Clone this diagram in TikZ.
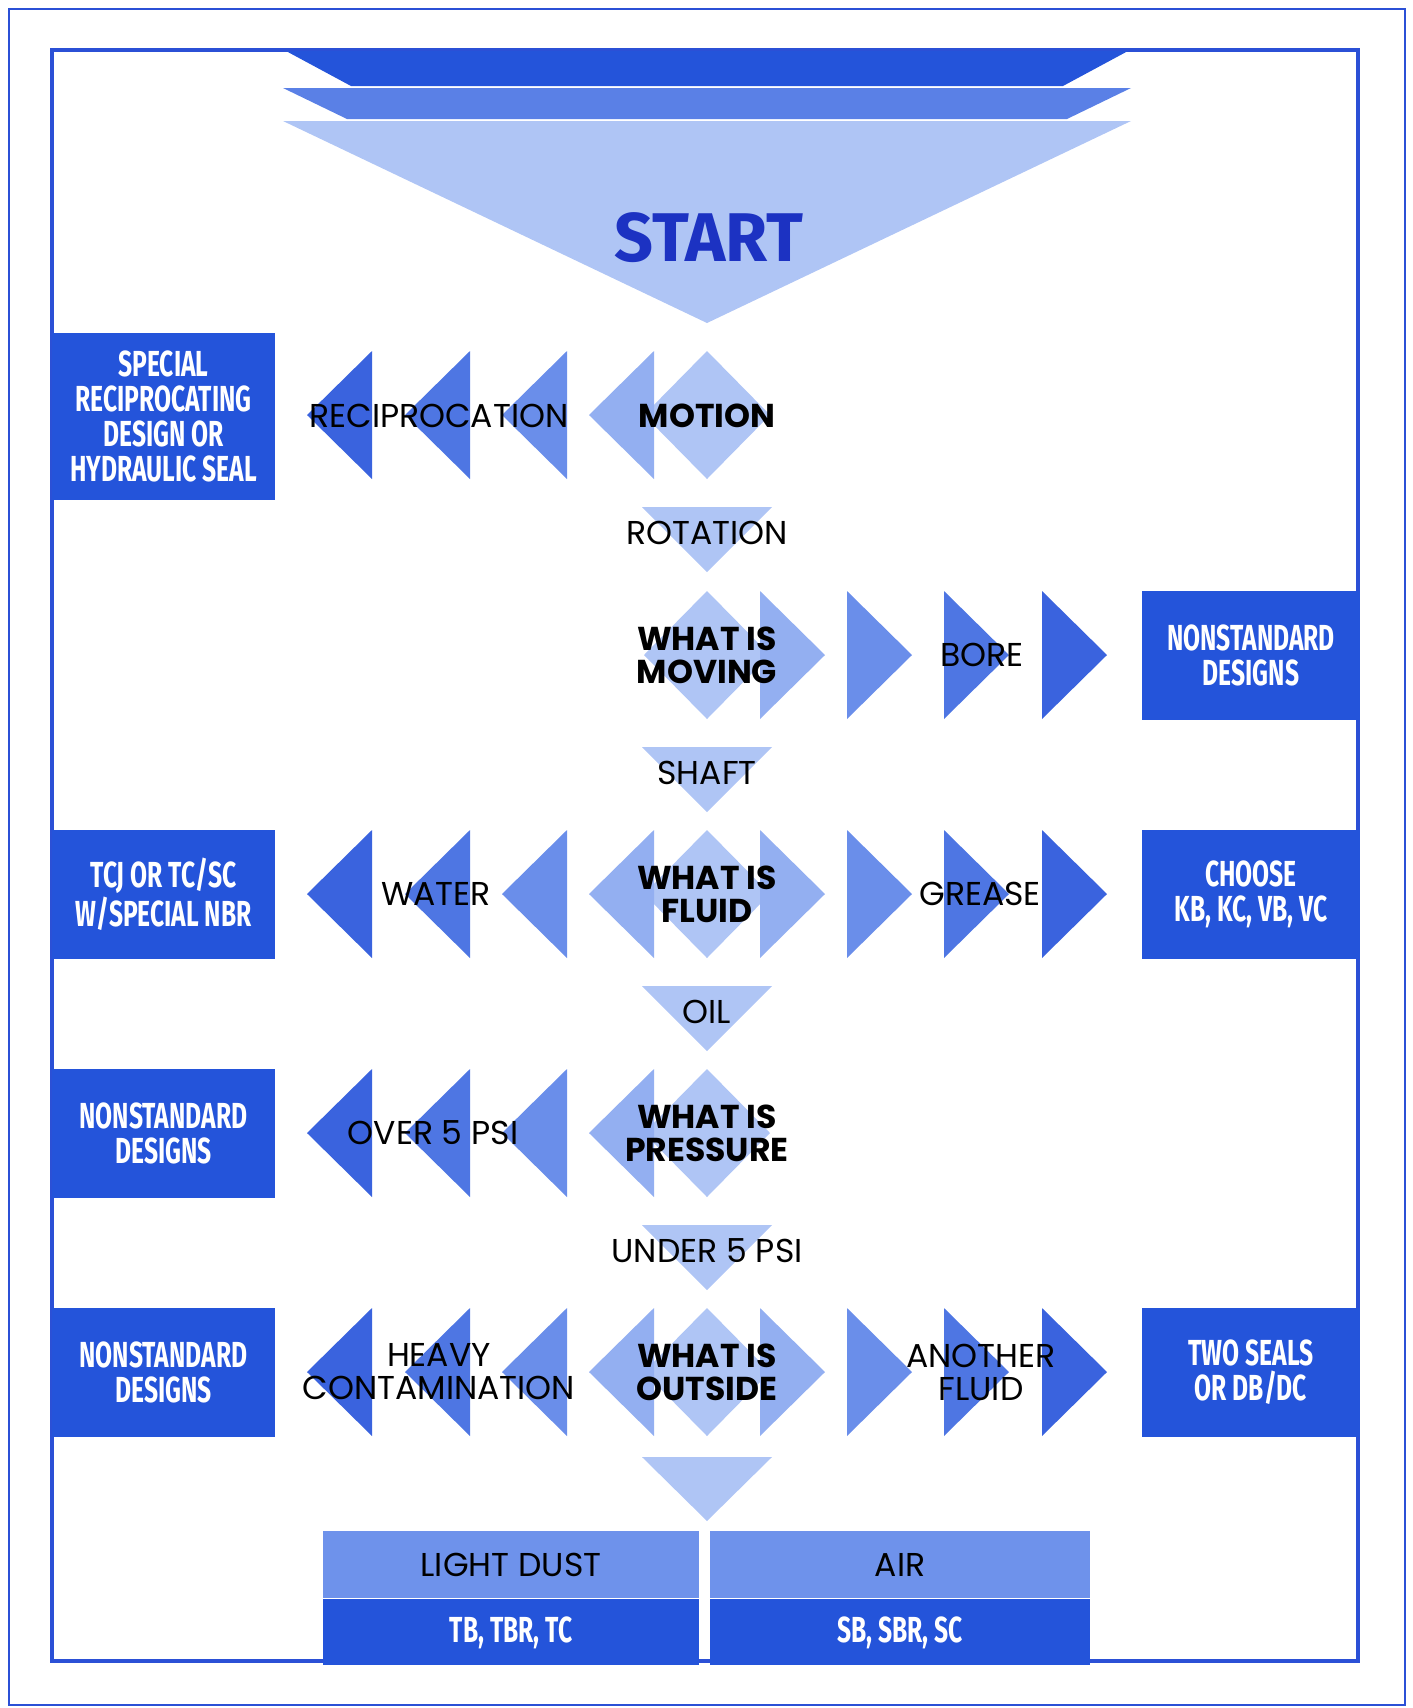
\documentclass[tikz,border=0pt]{standalone}
\usepackage{fontspec}
\usetikzlibrary{positioning}
\setmainfont{Poppins}
\newfontfamily\boxfont[FakeStretch=0.68]{Fira Sans}
\newfontfamily\startfont[FakeStretch=0.99]{Fira Sans}

\definecolor{framblue}{HTML}{2B50D6}
\definecolor{boxblue}{HTML}{2454DA}
\definecolor{midblue}{HTML}{5A80E6}
\definecolor{dustblue}{HTML}{6E92EB}
\definecolor{paleblue}{HTML}{AFC5F5}
\definecolor{startblue}{HTML}{1C32C2}
\definecolor{arrowA}{HTML}{93AFF1}
\definecolor{arrowB}{HTML}{6A8EEA}
\definecolor{arrowC}{HTML}{4E76E3}
\definecolor{arrowD}{HTML}{3A63DE}

\begin{document}
\begin{tikzpicture}[x=0.01cm, y=-0.01cm,
  lbl/.style={inner sep=0, align=center, font=\fontsize{9.4}{9.4}\selectfont},
  ask/.style={lbl, font=\bfseries\fontsize{9.4}{9.4}\selectfont},
  endbox/.style={fill=boxblue, text=white, inner sep=0, align=center,
    minimum width=2.23cm, minimum height=1.29cm,
    font=\boxfont\bfseries\fontsize{10.3}{10}\selectfont},
  startlbl/.style={inner sep=0, text=startblue,
    font=\startfont\bfseries\fontsize{19.6}{20}\selectfont}]
\useasboundingbox (0,0) rectangle (1413,1708);

\draw[framblue, line width=0.7pt] (9,9) rectangle (1405,1705);
\draw[framblue, line width=1.1pt] (52,50) rectangle (1358,1661);

\fill[boxblue] (286,51) -- (1128,51) -- (1063,86) -- (351,86) -- cycle;
\fill[midblue] (283,88) -- (1131,88) -- (1067,119) -- (347,119) -- cycle;
\fill[paleblue] (283,121) -- (1131,121) -- (707,323) -- cycle;
\node[startlbl] (start) at (709,238) {START};

\fill[paleblue] (707,351) -- (770,415) -- (707,479) -- (644,415) -- cycle;
\fill[arrowA] (589,415) -- ++(65,-64) -- ++(0,128) -- cycle;
\fill[arrowB] (502,415) -- ++(65,-64) -- ++(0,128) -- cycle;
\fill[arrowC] (405,415) -- ++(65,-64) -- ++(0,128) -- cycle;
\fill[arrowD] (307,415) -- ++(65,-64) -- ++(0,128) -- cycle;
\node[endbox, minimum height=1.67cm] (recipseal) at (163.5,416.5) {SPECIAL\\RECIPROCATING\\DESIGN OR\\HYDRAULIC SEAL};
\node[lbl] (recip) at (439,416) {RECIPROCATION};
\node[ask] (motion) at (707,416) {MOTION};

\fill[paleblue] (642,507) -- (772,507) -- (707,572) -- cycle;
\node[lbl] (rotation) at (707,533) {ROTATION};

\fill[paleblue] (707,591) -- (770,655) -- (707,719) -- (644,655) -- cycle;
\fill[arrowA] (825,655) -- ++(-65,-64) -- ++(0,128) -- cycle;
\fill[arrowB] (912,655) -- ++(-65,-64) -- ++(0,128) -- cycle;
\fill[arrowC] (1009,655) -- ++(-65,-64) -- ++(0,128) -- cycle;
\fill[arrowD] (1107,655) -- ++(-65,-64) -- ++(0,128) -- cycle;
\node[ask] (moving) at (707,655) {WHAT IS\\MOVING};
\node[lbl] (bore) at (982,655) {BORE};
\node[endbox, minimum width=2.18cm] (nonstdbore) at (1251,655.5) {NONSTANDARD\\DESIGNS};

\fill[paleblue] (642,747) -- (772,747) -- (707,812) -- cycle;
\node[lbl] (shaft) at (707,773) {SHAFT};

\fill[paleblue] (707,830) -- (770,894) -- (707,958) -- (644,894) -- cycle;
\fill[arrowA] (589,894) -- ++(65,-64) -- ++(0,128) -- cycle;
\fill[arrowB] (502,894) -- ++(65,-64) -- ++(0,128) -- cycle;
\fill[arrowC] (405,894) -- ++(65,-64) -- ++(0,128) -- cycle;
\fill[arrowD] (307,894) -- ++(65,-64) -- ++(0,128) -- cycle;
\fill[arrowA] (825,894) -- ++(-65,-64) -- ++(0,128) -- cycle;
\fill[arrowB] (912,894) -- ++(-65,-64) -- ++(0,128) -- cycle;
\fill[arrowC] (1009,894) -- ++(-65,-64) -- ++(0,128) -- cycle;
\fill[arrowD] (1107,894) -- ++(-65,-64) -- ++(0,128) -- cycle;
\node[ask] (fluid) at (707,894) {WHAT IS\\FLUID};
\node[lbl] (water) at (436,894) {WATER};
\node[lbl] (grease) at (980,894) {GREASE};
\node[endbox] (tcj) at (163.5,894.5) {TCJ OR TC/SC\\W/SPECIAL NBR};
\node[endbox, minimum width=2.18cm] (choose) at (1251,894.5) {CHOOSE\\KB, KC, VB, VC};

\fill[paleblue] (642,986) -- (772,986) -- (707,1051) -- cycle;
\node[lbl] (oil) at (707,1012) {OIL};

\fill[paleblue] (707,1069) -- (770,1133) -- (707,1197) -- (644,1133) -- cycle;
\fill[arrowA] (589,1133) -- ++(65,-64) -- ++(0,128) -- cycle;
\fill[arrowB] (502,1133) -- ++(65,-64) -- ++(0,128) -- cycle;
\fill[arrowC] (405,1133) -- ++(65,-64) -- ++(0,128) -- cycle;
\fill[arrowD] (307,1133) -- ++(65,-64) -- ++(0,128) -- cycle;
\node[ask] (pressure) at (707,1133) {WHAT IS\\PRESSURE};
\node[lbl] (over) at (433,1133) {OVER 5 PSI};
\node[endbox] (nonstdpsi) at (163.5,1133.5) {NONSTANDARD\\DESIGNS};

\fill[paleblue] (642,1225) -- (772,1225) -- (707,1290) -- cycle;
\node[lbl] (under) at (707,1251) {UNDER 5 PSI};

\fill[paleblue] (707,1308) -- (770,1372) -- (707,1436) -- (644,1372) -- cycle;
\fill[arrowA] (589,1372) -- ++(65,-64) -- ++(0,128) -- cycle;
\fill[arrowB] (502,1372) -- ++(65,-64) -- ++(0,128) -- cycle;
\fill[arrowC] (405,1372) -- ++(65,-64) -- ++(0,128) -- cycle;
\fill[arrowD] (307,1372) -- ++(65,-64) -- ++(0,128) -- cycle;
\fill[arrowA] (825,1372) -- ++(-65,-64) -- ++(0,128) -- cycle;
\fill[arrowB] (912,1372) -- ++(-65,-64) -- ++(0,128) -- cycle;
\fill[arrowC] (1009,1372) -- ++(-65,-64) -- ++(0,128) -- cycle;
\fill[arrowD] (1107,1372) -- ++(-65,-64) -- ++(0,128) -- cycle;
\node[ask] (outside) at (707,1372) {WHAT IS\\OUTSIDE};
\node[lbl] (heavy) at (439,1372) {HEAVY\\CONTAMINATION};
\node[lbl] (another) at (981,1372) {ANOTHER\\FLUID};
\node[endbox] (nonstdheavy) at (163.5,1372.5) {NONSTANDARD\\DESIGNS};
\node[endbox, minimum width=2.18cm] (twoseals) at (1251,1372.5) {TWO SEALS\\OR DB/DC};

\fill[paleblue] (642,1457) -- (772,1457) -- (707,1521) -- cycle;

\node[lbl, fill=dustblue, minimum width=3.76cm, minimum height=0.67cm] (dust) at (511,1564.5) {LIGHT DUST};
\node[endbox, minimum width=3.76cm, minimum height=0.66cm, below=0pt of dust] (tbseal) {TB, TBR, TC};
\node[lbl, fill=dustblue, minimum width=3.80cm, minimum height=0.67cm] (air) at (900,1564.5) {AIR};
\node[endbox, minimum width=3.80cm, minimum height=0.66cm, below=0pt of air] (sbseal) {SB, SBR, SC};

\end{tikzpicture}
\end{document}
